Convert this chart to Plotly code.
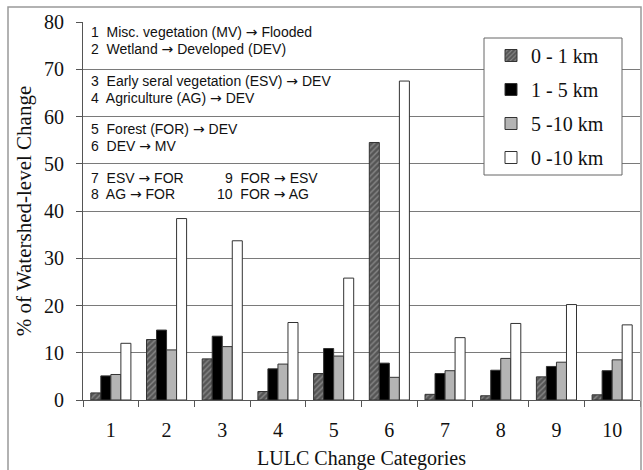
import plotly.graph_objects as go

categories = ["1", "2", "3", "4", "5", "6", "7", "8", "9", "10"]
series_names = ["0 - 1 km", "1 - 5 km", "5 -10 km", "0 -10 km"]
v_0_1 = [1.5, 12.8, 8.7, 1.8, 5.6, 54.5, 1.2, 0.9, 4.9, 1.1]
v_1_5 = [5.1, 14.8, 13.5, 6.6, 10.9, 7.8, 5.6, 6.3, 7.1, 6.2]
v_5_10 = [5.4, 10.6, 11.3, 7.6, 9.3, 4.8, 6.2, 8.8, 8.0, 8.5]
v_0_10 = [12.0, 38.4, 33.7, 16.4, 25.8, 67.5, 13.2, 16.2, 20.2, 15.9]
y_ticks = [0, 10, 20, 30, 40, 50, 60, 70, 80]
ARW = "<span style='font-family:DejaVu Sans'>\u2192</span>"
notes = [
    "1  Misc. vegetation (MV) " + ARW + " Flooded",
    "2  Wetland " + ARW + " Developed (DEV)",
    "3  Early seral vegetation (ESV) " + ARW + " DEV",
    "4  Agriculture (AG) " + ARW + " DEV",
    "5  Forest (FOR) " + ARW + " DEV",
    "6  DEV " + ARW + " MV",
    "7  ESV " + ARW + " FOR",
    "8  AG " + ARW + " FOR",
]
notes_right = ["9  FOR " + ARW + " ESV", "10  FOR " + ARW + " AG"]

# layout geometry (pixels)
W, H = 643, 470
L, R, T, B = 83, 3, 22, 70
pw, ph = W - L - R, H - T - B


def px_x(p):
    return (p - L) / pw


def px_y(p):
    return (H - B - p) / ph


SERIF = "Liberation Serif, Times New Roman, serif"
SANS = "Liberation Sans, Arial, sans-serif"
line = dict(color="#333333", width=1)

fig = go.Figure()
fig.add_trace(go.Bar(
    x=categories, y=v_0_1, name=series_names[0], legendgroup="a",
    marker=dict(color="#555555", line=line,
                pattern=dict(shape="/", fgcolor="#bbbbbb", bgcolor="#555555",
                             size=4, solidity=0.35)),
))
fig.add_trace(go.Bar(x=categories, y=v_1_5, name=series_names[1], legendgroup="b",
                     marker=dict(color="#000000", line=line)))
fig.add_trace(go.Bar(x=categories, y=v_5_10, name=series_names[2], legendgroup="c",
                     marker=dict(color="#b4b4b4", line=line)))
fig.add_trace(go.Bar(x=categories, y=v_0_10, name=series_names[3], legendgroup="d",
                     marker=dict(color="#ffffff", line=line)))

annotations = []
note_y_px = [32, 49, 81, 98, 129, 146, 178, 194]
for txt, yp in zip(notes, note_y_px):
    annotations.append(dict(text=txt, xref="paper", yref="paper", x=px_x(89), y=px_y(yp),
                            xanchor="left", yanchor="middle", showarrow=False,
                            font=dict(family=SANS, size=14, color="#111111")))
for txt, xp, yp in zip(notes_right, [223, 215], [178, 194]):
    annotations.append(dict(text=txt, xref="paper", yref="paper", x=px_x(xp), y=px_y(yp),
                            xanchor="left", yanchor="middle", showarrow=False,
                            font=dict(family=SANS, size=14, color="#111111")))

shapes = [
    # outer frame
    dict(type="rect", xref="paper", yref="paper", x0=px_x(8), x1=px_x(641),
         y0=px_y(480), y1=px_y(7), line=dict(color="#999999", width=1.5),
         fillcolor="rgba(0,0,0,0)", layer="above"),
    # legend box
    dict(type="rect", xref="paper", yref="paper", x0=px_x(484), x1=px_x(622),
         y0=px_y(175), y1=px_y(38), line=dict(color="#666666", width=1),
         fillcolor="white", layer="above"),
]

fig.update_layout(
    width=W, height=H,
    margin=dict(l=L, r=R, t=T, b=B),
    paper_bgcolor="white", plot_bgcolor="white",
    barmode="group", bargap=0.28, bargroupgap=0,
    showlegend=True,
    legend=dict(x=px_x(491), y=px_y(36), xanchor="left", yanchor="top",
                bgcolor="rgba(0,0,0,0)", borderwidth=0, traceorder="grouped",
                tracegroupgap=5, font=dict(family=SERIF, size=20, color="#111111")),
    annotations=annotations,
    shapes=shapes,
    font=dict(family=SERIF, color="#111111"),
)
fig.update_xaxes(
    type="category", range=[-0.5, 9.5], tickson="boundaries", ticks="outside",
    ticklen=6, tickcolor="#555555", showline=True, linecolor="#555555", linewidth=1,
    showgrid=False, tickfont=dict(family=SERIF, size=20, color="#111111"),
    ticklabelstandoff=12,
    title=dict(text="LULC Change Categories", standoff=11,
               font=dict(family=SERIF, size=20, color="#111111")),
)
fig.update_yaxes(
    range=[0, 80], tickvals=y_ticks, ticks="outside", ticklen=6, tickcolor="#555555",
    showline=True, linecolor="#555555", linewidth=1,
    showgrid=True, gridcolor="#7a7a7a", gridwidth=1, zeroline=False,
    tickfont=dict(family=SERIF, size=20, color="#111111"), ticklabelstandoff=8,
    title=dict(text="% of Watershed-level Change", standoff=6,
               font=dict(family=SERIF, size=21, color="#111111")),
)

fig.write_html("out.html", config={"displayModeBar": False},
               post_script="document.body.style.margin='0';document.body.style.padding='0';")
